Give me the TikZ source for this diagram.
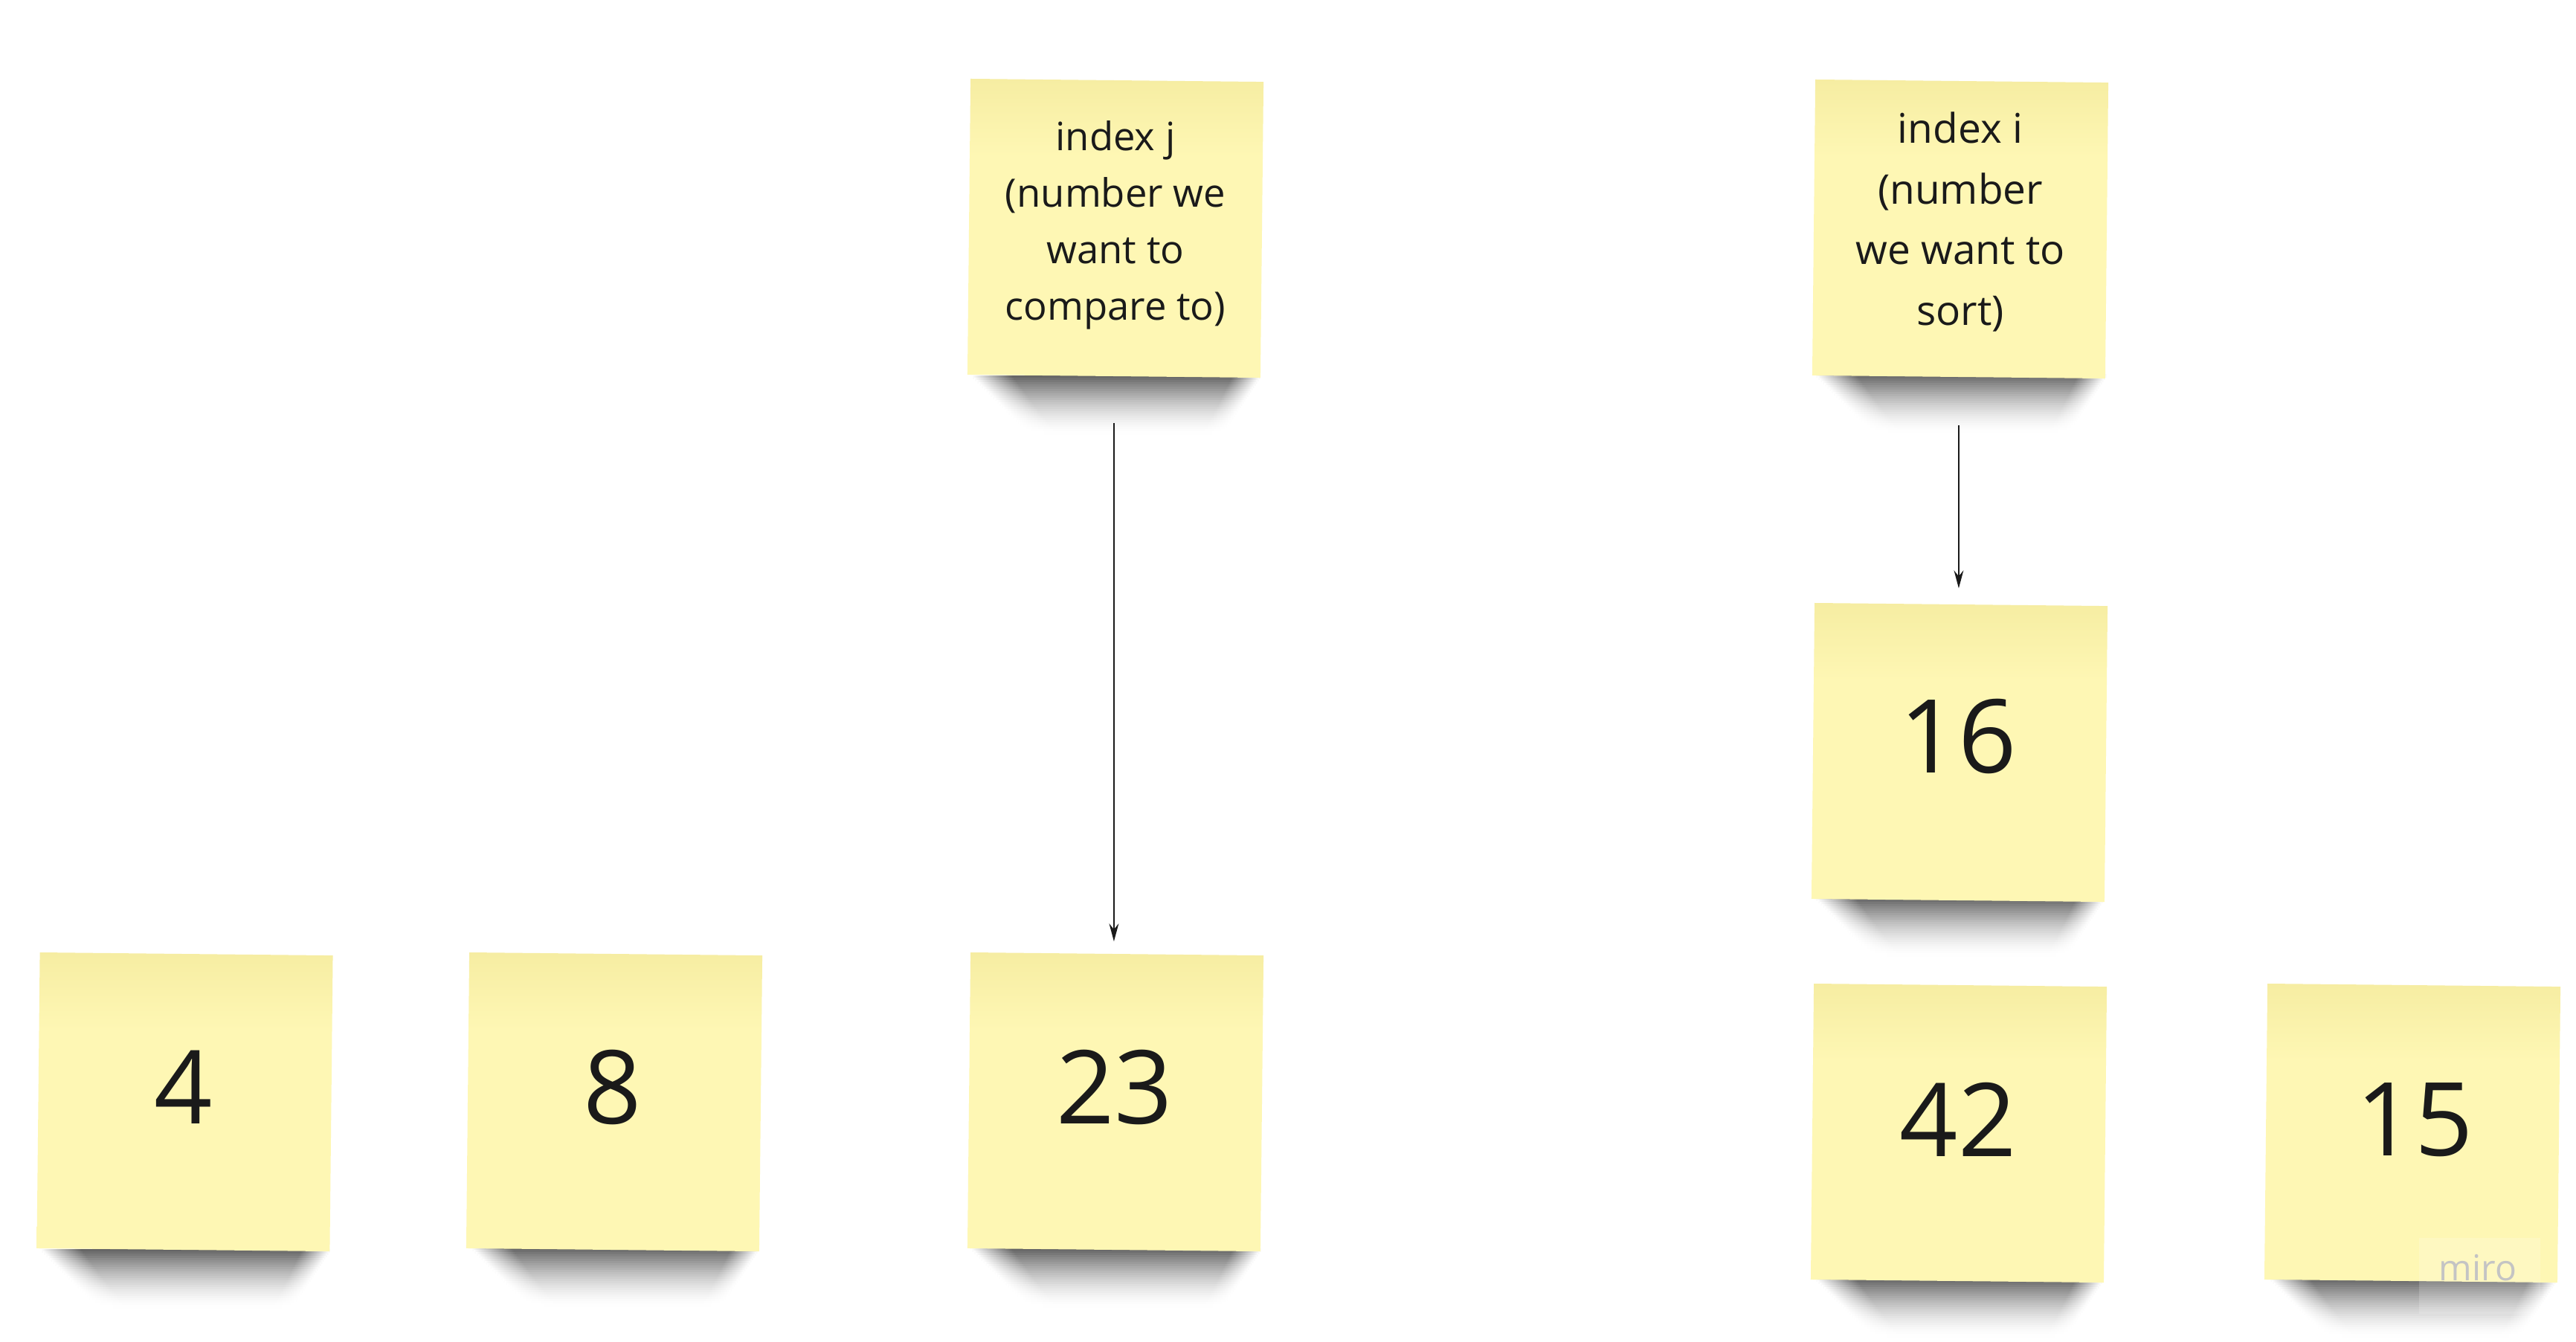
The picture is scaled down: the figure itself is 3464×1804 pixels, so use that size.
\documentclass[tikz,border=0pt]{standalone}
\usepackage{fontspec}
\setmainfont{Open Sans}
\usetikzlibrary{arrows.meta}
\definecolor{notebase}{HTML}{FEF7B4}
\definecolor{notetop}{HTML}{F6EDA2}
\definecolor{inkc}{HTML}{1A1A1A}
\definecolor{miroc}{HTML}{C4C4C4}
\colorlet{shc}{gray}
\pgfdeclareverticalshading{notesh}{100bp}{color(0bp)=(notebase); color(25bp)=(notebase); color(62bp)=(notebase); color(75bp)=(notetop); color(100bp)=(notetop)}
\pgfdeclarehorizontalshading[shc]{shstrip}{100bp}{color(0bp)=(white); color(25bp)=(white); color(32bp)=(shc); color(70bp)=(shc); color(75bp)=(white); color(100bp)=(white)}
\newcommand\noteshadow[3]{%
  \foreach \k in {0,...,25}{%
    \pgfmathsetmacro\lev{60*(1-\k/26)^1.6}%
    \colorlet{shc}{black!\lev!white}%
    \shade[shading=shstrip] ({#1+4+3*\k},{#3+3*\k-0.7}) rectangle ({#2-2-2*\k},{#3+3*\k+3});
  }}
\tikzset{
  sticky/.style={rectangle, inner sep=0pt, minimum width=98.5pt, minimum height=99.5pt,
    rotate=-0.6, shading=notesh},
  num/.style={inner sep=0pt, text=inkc, font=\fontsize{34.3pt}{40pt}\selectfont},
  lblj/.style={inner sep=0pt, text=inkc, align=center, anchor=north,
    font=\fontsize{13.15pt}{19pt}\selectfont},
  lbli/.style={inner sep=0pt, text=inkc, align=center, anchor=north,
    font=\fontsize{13.75pt}{20.4pt}\selectfont},
  conn/.style={draw=inkc, line width=0.5pt, -{Stealth[length=6pt,width=3.2pt]}},
}
\begin{document}
\begin{tikzpicture}[x=0.25pt, y=-0.25pt]
  \fill[white] (0,0) rectangle (3464,1804);
  \useasboundingbox (0,0) rectangle (3464,1804);
  % shadows
  \noteshadow{51}{446}{1681}
  \noteshadow{630}{1023}{1679}
  \noteshadow{1302}{1698}{1680}
  \noteshadow{1303}{1697}{506}
  \noteshadow{2437}{2835}{504}
  \noteshadow{2437}{2832}{1208}
  \noteshadow{2437}{2831}{1720}
  \noteshadow{3048}{3441}{1720}
  % notes
  \node[sticky] (n4)  at (248.5, 1482) {};
  \node[sticky] (n8)  at (826, 1482) {};
  \node[sticky] (n23) at (1500, 1482) {};
  \node[sticky] (nj)  at (1500, 307) {};
  \node[sticky] (ni)  at (2636, 308) {};
  \node[sticky] (n16) at (2635, 1012) {};
  \node[sticky] (n42) at (2634, 1524) {};
  \node[sticky] (n15) at (3244, 1524) {};
  % texts
  \node[num] (t4)  at (247, 1462) {4};
  \node[num] (t8)  at (824, 1462) {8};
  \node[num] (t23) at (1498.5, 1462) {23};
  \node[num] (t16) at (2633, 990) {16};
  \node[num] (t42) at (2633, 1506) {42};
  \node[num] (t15) at (3247, 1506) {15};
  \node[lblj] (tj) at (1500, 162) {index j\\(number we\\want to\\compare to)};
  \node[lbli] (ti) at (2636, 150) {index i\\(number\\we want to\\sort)};
  % watermark
  \fill[white, opacity=0.18] (3253,1665) rectangle (3416,1767);
  \node[inner sep=0pt, anchor=base, text=miroc, font=\fontsize{12pt}{14pt}\selectfont] (wm) at (3332, 1722) {miro};
  % connectors
  \draw[conn, shorten <=15.5pt, shorten >=4pt] (nj.south) -- (nj.south |- n23.north);
  \draw[conn, shorten <=16pt, shorten >=5.25pt] (ni.south) -- (ni.south |- n16.north);
\end{tikzpicture}
\end{document}
